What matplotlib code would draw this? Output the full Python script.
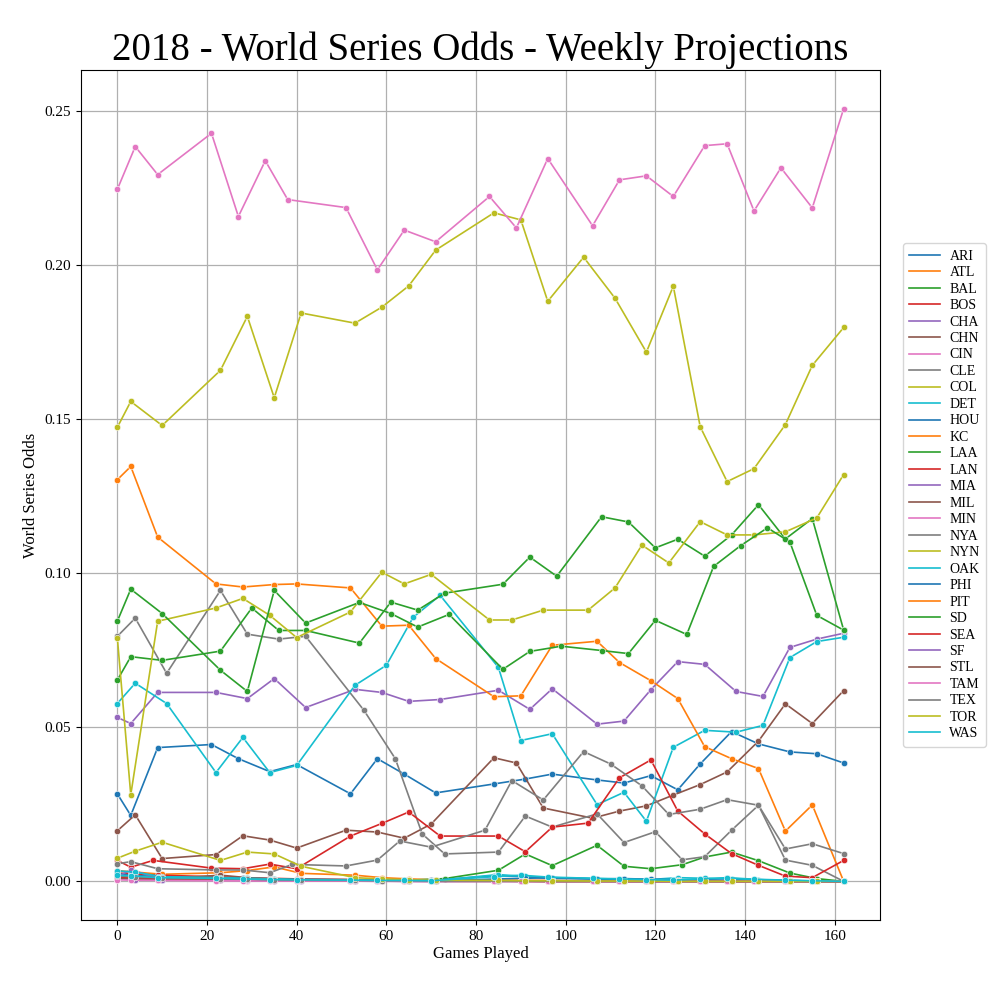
import matplotlib
matplotlib.use("Agg")
import matplotlib.pyplot as plt

TEAMS = ["ARI", "ATL", "BAL", "BOS", "CHA", "CHN", "CIN", "CLE", "COL", "DET",
         "HOU", "KC", "LAA", "LAN", "MIA", "MIL", "MIN", "NYA", "NYN", "OAK",
         "PHI", "PIT", "SD", "SEA", "SF", "STL", "TAM", "TEX", "TOR", "WAS"]

# generic weekly game counts for the teams that stay near zero
WEEK_GAMES_A = [0, 3, 9, 22, 28, 34, 40, 52, 58, 64, 70, 84, 90, 96, 106, 112, 118, 124, 130, 136, 142, 149, 155, 162]
WEEK_GAMES_B = [0, 4, 10, 23, 29, 35, 41, 53, 59, 65, 71, 85, 91, 97, 107, 113, 119, 125, 131, 137, 143, 150, 156, 162]

ari_games = [0, 3, 9, 21, 27, 34, 40, 52, 58, 64, 71, 84, 91, 97, 107, 113, 119, 125, 130, 137, 143, 150, 156, 162]
ari_odds = [0.0284, 0.0214, 0.0434, 0.0444, 0.0398, 0.0356, 0.0379, 0.0284, 0.0398, 0.0348, 0.0287, 0.0316,
            0.0332, 0.0348, 0.0329, 0.0319, 0.0343, 0.0297, 0.0381, 0.0486, 0.0446, 0.0420, 0.0414, 0.0384]
atl_odds = [0.0035, 0.0030, 0.0023, 0.0028, 0.0035, 0.0047, 0.0026, 0.0020, 0.0012, 0.0008, 0.0005, 0.0004,
            0.0003, 0.0003, 0.0002, 0.0002, 0.0001, 0.0001, 0.0001, 0.0, 0.0, 0.0, 0.0, 0.0]
bal_games = [0, 3, 9, 22, 28, 34, 40, 52, 58, 64, 73, 85, 91, 97, 107, 113, 119, 126, 131, 137, 143, 150, 156, 162]
bal_odds = [0.0020, 0.0015, 0.0010, 0.0010, 0.0008, 0.0006, 0.0005, 0.0004, 0.0003, 0.0003, 0.0009, 0.0036,
            0.0089, 0.0051, 0.0117, 0.0049, 0.0041, 0.0054, 0.0079, 0.0095, 0.0067, 0.0027, 0.0009, 0.0]
bos_odds = [0.0027, 0.0025, 0.0020, 0.0015, 0.0012, 0.0010, 0.0008, 0.0006, 0.0005, 0.0004, 0.0003, 0.0002,
            0.0002, 0.0002, 0.0001, 0.0001, 0.0001, 0.0001, 0.0, 0.0, 0.0, 0.0, 0.0, 0.0]
cha_games = [0, 3, 9, 22, 29, 35, 42, 53, 59, 65, 72, 85, 92, 97, 107, 113, 119, 125, 131, 138, 144, 150, 156, 162]
cha_odds = [0.0532, 0.0512, 0.0613, 0.0613, 0.0593, 0.0658, 0.0564, 0.0623, 0.0613, 0.0584, 0.0590, 0.0620,
            0.0558, 0.0625, 0.0510, 0.0520, 0.0622, 0.0713, 0.0704, 0.0616, 0.0600, 0.0759, 0.0786, 0.0805]
chn_games = [0, 4, 10, 22, 28, 34, 40, 51, 58, 64, 70, 84, 89, 95, 106, 112, 118, 124, 130, 136, 143, 149, 155, 162]
chn_odds = [0.0164, 0.0216, 0.0074, 0.0087, 0.0148, 0.0134, 0.0108, 0.0166, 0.0160, 0.0140, 0.0186, 0.0401,
            0.0384, 0.0238, 0.0205, 0.0228, 0.0245, 0.0280, 0.0314, 0.0355, 0.0455, 0.0576, 0.0512, 0.0619]
cin_odds = [0.0008, 0.0006, 0.0004, 0.0003, 0.0002, 0.0002, 0.0001, 0.0001, 0.0001, 0.0, 0.0, 0.0,
            0.0, 0.0, 0.0, 0.0, 0.0, 0.0, 0.0, 0.0, 0.0, 0.0, 0.0, 0.0]
cle_games = [0, 4, 11, 23, 29, 36, 42, 55, 62, 68, 73, 85, 91, 97, 107, 113, 120, 126, 131, 137, 143, 149, 155, 162]
cle_odds = [0.0795, 0.0854, 0.0675, 0.0944, 0.0802, 0.0786, 0.0795, 0.0555, 0.0398, 0.0154, 0.0089, 0.0095,
            0.0212, 0.0176, 0.0219, 0.0126, 0.0161, 0.0070, 0.0080, 0.0166, 0.0247, 0.0069, 0.0052, 0.0]
col_games = [0, 3, 10, 23, 29, 35, 41, 53, 59, 65, 71, 84, 90, 96, 104, 111, 118, 124, 130, 136, 142, 149, 155, 162]
col_odds = [0.1473, 0.1557, 0.1479, 0.1658, 0.1833, 0.1569, 0.1844, 0.1811, 0.1863, 0.1932, 0.2048, 0.2169,
            0.2146, 0.1882, 0.2025, 0.1892, 0.1717, 0.1931, 0.1475, 0.1297, 0.1339, 0.1482, 0.1674, 0.1797]
det_games = [0, 4, 11, 22, 28, 34, 40, 53, 60, 66, 72, 85, 90, 97, 107, 113, 118, 124, 131, 138, 144, 150, 156, 162]
det_odds = [0.0577, 0.0643, 0.0577, 0.0353, 0.0467, 0.0353, 0.0376, 0.0636, 0.0701, 0.0857, 0.0928, 0.0694,
            0.0457, 0.0479, 0.0249, 0.0289, 0.0195, 0.0435, 0.0490, 0.0484, 0.0506, 0.0726, 0.0778, 0.0792]
hou_odds = [0.0025, 0.0020, 0.0015, 0.0012, 0.0010, 0.0008, 0.0006, 0.0005, 0.0004, 0.0003, 0.0003, 0.0018,
            0.0016, 0.0010, 0.0008, 0.0006, 0.0005, 0.0004, 0.0006, 0.0010, 0.0006, 0.0003, 0.0001, 0.0]
kc_games = [0, 3, 9, 22, 28, 35, 40, 52, 59, 65, 71, 84, 90, 97, 107, 112, 119, 125, 131, 137, 143, 149, 155, 162]
kc_odds = [0.1303, 0.1346, 0.1117, 0.0965, 0.0955, 0.0963, 0.0965, 0.0952, 0.0828, 0.0831, 0.0723, 0.0599,
           0.0602, 0.0766, 0.0779, 0.0710, 0.0651, 0.0593, 0.0437, 0.0398, 0.0366, 0.0163, 0.0248, 0.0]
laa_games = [0, 3, 10, 23, 30, 36, 42, 54, 61, 67, 73, 86, 92, 98, 108, 114, 120, 125, 131, 137, 143, 149, 155, 162]
laa_odds = [0.0653, 0.0729, 0.0717, 0.0747, 0.0887, 0.0814, 0.0814, 0.0773, 0.0906, 0.0880, 0.0935, 0.0964,
            0.1052, 0.0990, 0.1183, 0.1166, 0.1082, 0.1110, 0.1055, 0.1124, 0.1222, 0.1111, 0.1177, 0.0815]
lan_games = [0, 3, 8, 21, 28, 34, 40, 52, 59, 65, 72, 85, 91, 97, 105, 112, 119, 125, 131, 137, 143, 149, 155, 162]
lan_odds = [0.0068, 0.0046, 0.0068, 0.0043, 0.0041, 0.0056, 0.0041, 0.0147, 0.0188, 0.0225, 0.0147, 0.0147,
            0.0096, 0.0176, 0.0189, 0.0336, 0.0394, 0.0228, 0.0154, 0.0090, 0.0052, 0.0017, 0.0012, 0.0068]
mia_odds = [0.0015, 0.0037, 0.0012, 0.0008, 0.0006, 0.0005, 0.0004, 0.0003, 0.0002, 0.0002, 0.0001, 0.0001,
            0.0001, 0.0, 0.0, 0.0, 0.0, 0.0, 0.0, 0.0, 0.0, 0.0, 0.0, 0.0]
mil_odds = [0.0012, 0.0010, 0.0008, 0.0020, 0.0012, 0.0008, 0.0006, 0.0005, 0.0004, 0.0003, 0.0002, 0.0002,
            0.0001, 0.0001, 0.0001, 0.0, 0.0, 0.0, 0.0, 0.0, 0.0, 0.0, 0.0, 0.0]
min_games = [0, 4, 9, 21, 27, 33, 38, 51, 58, 64, 71, 83, 89, 96, 106, 112, 118, 124, 131, 136, 142, 148, 155, 162]
min_odds = [0.2245, 0.2384, 0.2293, 0.2427, 0.2157, 0.2338, 0.2212, 0.2186, 0.1984, 0.2113, 0.2075, 0.2222,
            0.2120, 0.2345, 0.2127, 0.2276, 0.2289, 0.2222, 0.2387, 0.2393, 0.2175, 0.2315, 0.2185, 0.2507]
nya_games = [0, 3, 9, 22, 28, 34, 39, 51, 58, 63, 70, 82, 88, 95, 104, 110, 117, 123, 130, 136, 143, 149, 155, 162]
nya_odds = [0.0057, 0.0064, 0.0041, 0.0037, 0.0037, 0.0028, 0.0055, 0.0050, 0.0069, 0.0131, 0.0111, 0.0166,
            0.0327, 0.0264, 0.0421, 0.0381, 0.0310, 0.0217, 0.0234, 0.0265, 0.0247, 0.0105, 0.0122, 0.0090]
nyn_games = [0, 3, 9, 22, 28, 34, 40, 52, 59, 64, 70, 83, 88, 95, 105, 111, 117, 123, 130, 136, 142, 149, 156, 162]
nyn_odds = [0.0791, 0.0281, 0.0844, 0.0887, 0.0918, 0.0863, 0.0791, 0.0874, 0.1003, 0.0965, 0.0996, 0.0848,
            0.0848, 0.0880, 0.0880, 0.0952, 0.1091, 0.1033, 0.1167, 0.1124, 0.1124, 0.1134, 0.1179, 0.1320]
oak_odds = [0.0034, 0.0030, 0.0015, 0.0012, 0.0010, 0.0008, 0.0006, 0.0005, 0.0004, 0.0003, 0.0003, 0.0022,
            0.0016, 0.0012, 0.0009, 0.0007, 0.0006, 0.0012, 0.0010, 0.0008, 0.0005, 0.0003, 0.0001, 0.0]
phi_odds = [0.0010, 0.0008, 0.0006, 0.0005, 0.0004, 0.0003, 0.0003, 0.0002, 0.0002, 0.0001, 0.0001, 0.0008,
            0.0010, 0.0012, 0.0008, 0.0009, 0.0007, 0.0005, 0.0004, 0.0003, 0.0002, 0.0001, 0.0, 0.0]
pit_odds = [0.0015, 0.0012, 0.0010, 0.0008, 0.0006, 0.0005, 0.0004, 0.0003, 0.0002, 0.0002, 0.0001, 0.0001,
            0.0001, 0.0, 0.0, 0.0, 0.0, 0.0, 0.0, 0.0, 0.0, 0.0, 0.0, 0.0]
sd_games = [0, 3, 10, 23, 29, 35, 42, 54, 61, 67, 74, 86, 92, 99, 108, 114, 120, 127, 133, 139, 145, 150, 156, 162]
sd_odds = [0.0844, 0.0948, 0.0869, 0.0685, 0.0616, 0.0944, 0.0838, 0.0905, 0.0869, 0.0825, 0.0866, 0.0688,
           0.0746, 0.0763, 0.0749, 0.0739, 0.0847, 0.0801, 0.1022, 0.1089, 0.1147, 0.1101, 0.0863, 0.0815]
sea_odds = [0.0012, 0.0010, 0.0008, 0.0006, 0.0005, 0.0004, 0.0003, 0.0002, 0.0002, 0.0001, 0.0001, 0.0001,
            0.0, 0.0, 0.0, 0.0, 0.0, 0.0, 0.0, 0.0, 0.0, 0.0, 0.0, 0.0]
sf_odds = [0.0008, 0.0006, 0.0005, 0.0004, 0.0003, 0.0002, 0.0002, 0.0001, 0.0001, 0.0, 0.0, 0.0,
           0.0, 0.0, 0.0, 0.0, 0.0, 0.0, 0.0, 0.0, 0.0, 0.0, 0.0, 0.0]
stl_odds = [0.0010, 0.0008, 0.0006, 0.0005, 0.0004, 0.0003, 0.0002, 0.0002, 0.0001, 0.0001, 0.0, 0.0,
            0.0, 0.0, 0.0, 0.0, 0.0, 0.0, 0.0, 0.0, 0.0, 0.0, 0.0, 0.0]
tam_odds = [0.0005, 0.0004, 0.0003, 0.0002, 0.0002, 0.0001, 0.0001, 0.0001, 0.0, 0.0, 0.0, 0.0,
            0.0, 0.0, 0.0, 0.0, 0.0, 0.0, 0.0, 0.0, 0.0, 0.0, 0.0, 0.0]
tex_odds = [0.0018, 0.0015, 0.0012, 0.0009, 0.0007, 0.0005, 0.0004, 0.0003, 0.0002, 0.0002, 0.0001, 0.0001,
            0.0001, 0.0, 0.0, 0.0, 0.0, 0.0, 0.0, 0.0, 0.0, 0.0, 0.0, 0.0]
tor_odds = [0.0075, 0.0098, 0.0127, 0.0068, 0.0095, 0.0089, 0.0049, 0.0012, 0.0008, 0.0005, 0.0004, 0.0003,
            0.0002, 0.0002, 0.0001, 0.0001, 0.0001, 0.0, 0.0, 0.0, 0.0, 0.0, 0.0, 0.0]
was_odds = [0.0020, 0.0018, 0.0012, 0.0010, 0.0008, 0.0006, 0.0005, 0.0004, 0.0003, 0.0003, 0.0002, 0.0015,
            0.0020, 0.0014, 0.0010, 0.0008, 0.0006, 0.0004, 0.0008, 0.0012, 0.0007, 0.0004, 0.0002, 0.0]

SERIES = [
    (ari_games, ari_odds), (WEEK_GAMES_B, atl_odds), (bal_games, bal_odds), (WEEK_GAMES_A, bos_odds),
    (cha_games, cha_odds), (chn_games, chn_odds), (WEEK_GAMES_B, cin_odds), (cle_games, cle_odds),
    (col_games, col_odds), (det_games, det_odds), (WEEK_GAMES_A, hou_odds), (kc_games, kc_odds),
    (laa_games, laa_odds), (lan_games, lan_odds), (WEEK_GAMES_A, mia_odds), (WEEK_GAMES_B, mil_odds),
    (min_games, min_odds), (nya_games, nya_odds), (nyn_games, nyn_odds), (WEEK_GAMES_B, oak_odds),
    (WEEK_GAMES_B, phi_odds), (WEEK_GAMES_A, pit_odds), (sd_games, sd_odds), (WEEK_GAMES_B, sea_odds),
    (WEEK_GAMES_B, sf_odds), (WEEK_GAMES_A, stl_odds), (WEEK_GAMES_A, tam_odds), (WEEK_GAMES_B, tex_odds),
    (WEEK_GAMES_B, tor_odds), (WEEK_GAMES_A, was_odds),
]

plt.rcParams["font.family"] = ["Liberation Serif", "DejaVu Serif"]

fig = plt.figure(figsize=(10, 10), dpi=100)
ax = fig.add_axes([0.081, 0.080, 0.799, 0.850])

for team, (games, odds) in zip(TEAMS, SERIES):
    line, = ax.plot(games, odds, lw=1.2, label=team)
    ax.plot(games, odds, "o", ms=4.6, color=line.get_color(), mec="white", mew=0.4)

ax.grid(True, color="#b0b0b0", lw=0.9)
ax.set_axisbelow(True)
ax.set_xticks([0, 20, 40, 60, 80, 100, 120, 140, 160])
ax.set_yticks([0.0, 0.05, 0.10, 0.15, 0.20, 0.25])
ax.set_yticklabels(["0.00", "0.05", "0.10", "0.15", "0.20", "0.25"])
ax.tick_params(labelsize=11)
ax.set_xlabel("Games Played", fontsize=12, labelpad=2)
ax.set_ylabel("World Series Odds", fontsize=12)
ax.set_title("2018 - World Series Odds - Weekly Projections", fontsize=28, pad=7)
ax.legend(loc="center left", bbox_to_anchor=(1.02, 0.5), fontsize=10,
          handlelength=2.2, labelspacing=0.25, borderpad=0.45, handletextpad=0.7)

fig.savefig("out.png", dpi=100)
